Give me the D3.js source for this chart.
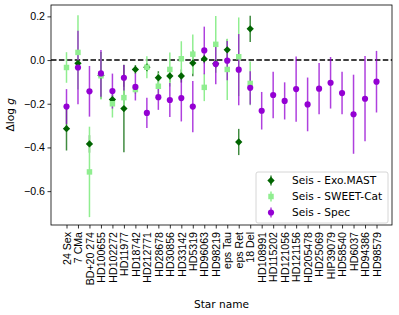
<!DOCTYPE html>
<html>
<head>
<meta charset="utf-8">
<style>
  body { margin: 0; background: white; }
  svg { font-family: "DejaVu Sans", sans-serif; }
</style>
</head>
<body>
<svg width="399" height="315"></svg>
<script src="https://d3js.org/d3.v7.min.js"></script>
<script>
// star names along the x axis
let stars = ["24 Sex", "7 CMa", "BD+20 274", "HD100655", "HD102272", "HD11977", "HD18742",
  "HD212771", "HD28678", "HD30856", "HD33142", "HD5319", "HD96063", "HD98219", "eps Tau",
  "eps Ret", "18 Del", "HD108991", "HD115202", "HD121056", "HD121156", "HD205478", "HD25069",
  "HIP39079", "HD58540", "HD6037", "HD94386", "HD98579"];

// Seis - Exo.MAST (first 17 stars)
let exoVal = [-0.314, -0.015, -0.384, -0.07, -0.181, -0.222, -0.043, -0.033, -0.081, -0.073,
  -0.073, -0.014, 0.005, -0.017, 0.047, -0.375, 0.143];
let exoErr = [0.10, 0.01, 0.04, 0.107, 0.02, 0.2, 0.02, 0.02, 0.03, 0.03, 0.03, 0.06, 0.02,
  0.02, 0.048, 0.06, 0.06];

// Seis - SWEET-Cat
let sweetVal = [-0.034, 0.035, -0.512, -0.072, -0.20, -0.172, -0.135, -0.033, -0.12, -0.043,
  0.006, 0.027, -0.125, 0.072, -0.043, 0.015, -0.107];
let sweetErr = [0.07, 0.17, 0.207, 0.108, 0.063, 0.05, 0.02, 0.05, 0.06, 0.078, 0.08, 0.09,
  0.063, 0.13, 0.14, 0.18, 0.1];

// Seis - Spec (all stars)
let specVal = [-0.213, -0.034, -0.143, -0.061, -0.142, -0.081, -0.123, -0.242, -0.17, -0.183,
  -0.174, -0.213, 0.044, -0.018, -0.003, -0.044, -0.127, -0.232, -0.16, -0.187, -0.133, -0.203,
  -0.131, -0.104, -0.151, -0.248, -0.177, -0.099];
let specErr = [0.08, 0.168, 0.116, 0.107, 0.08, 0.058, 0.062, 0.069, 0.058, 0.078, 0.107, 0.117,
  0.109, 0.093, 0.09, 0.163, 0.076, 0.086, 0.106, 0.085, 0.149, 0.123, 0.117, 0.118, 0.097,
  0.181, 0.195, 0.141];

let yTicks = [0.2, 0.0, -0.2, -0.4, -0.6];

let series = [
  { name: "Seis - Exo.MAST", vals: exoVal, errs: exoErr, color: "#006400", barOpacity: 0.75, shape: d3.symbolDiamond2 },
  { name: "Seis - SWEET-Cat", vals: sweetVal, errs: sweetErr, color: "#90ee90", barOpacity: 1, shape: d3.symbolSquare },
  { name: "Seis - Spec", vals: specVal, errs: specErr, color: "#9400d3", barOpacity: 0.75, shape: d3.symbolCircle }
];

let fontSize = "10.6px";
let margin = { left: 51, right: 7, top: 5, bottom: 90 };
let width = 399, height = 315;

let svg = d3.select("svg");

let x = d3.scaleLinear()
  .domain([-1.35, stars.length - 1 + 1.35])
  .range([margin.left, width - margin.right]);

let y = d3.scaleLinear()
  .domain([-0.755, 0.252])
  .range([height - margin.bottom, margin.top]);

// zero line
svg.append("line")
  .attr("x1", x.range()[0]).attr("x2", x.range()[1])
  .attr("y1", y(0)).attr("y2", y(0))
  .style("stroke", "black")
  .style("stroke-width", 1.5)
  .style("stroke-dasharray", "5.5,2.4");

// error bars first
series.forEach(s => {
  svg.append("g")
    .selectAll("line")
    .data(s.vals.map((v, i) => ({ i: i, v: v, e: s.errs[i] })))
    .join("line")
    .attr("x1", d => x(d.i)).attr("x2", d => x(d.i))
    .attr("y1", d => y(d.v - d.e)).attr("y2", d => y(d.v + d.e))
    .style("stroke", s.color)
    .style("stroke-opacity", s.barOpacity)
    .style("stroke-width", 1.5);
});

// markers on top
series.forEach(s => {
  svg.append("g")
    .selectAll("path")
    .data(s.vals.map((v, i) => ({ i: i, v: v })))
    .join("path")
    .attr("d", d3.symbol().type(s.shape).size(s.shape === d3.symbolDiamond2 ? 34 : 30))
    .attr("transform", d => "translate(" + x(d.i) + "," + y(d.v) + ")")
    .style("fill", s.color);
});

// axes
let xAxis = svg.append("g")
  .attr("transform", "translate(0," + y.range()[0] + ")")
  .call(d3.axisBottom(x)
    .tickValues(d3.range(stars.length))
    .tickFormat(i => stars[i])
    .tickSize(3.5)
    .tickSizeOuter(0));
xAxis.select(".domain").remove();
xAxis.selectAll("text")
  .attr("transform", "rotate(-90)")
  .attr("x", -7)
  .attr("y", 0)
  .attr("dy", "0.35em")
  .style("text-anchor", "end")
  .style("font-size", fontSize)
  .style("fill", "black");

let yAxis = svg.append("g")
  .attr("transform", "translate(" + x.range()[0] + ",0)")
  .call(d3.axisLeft(y)
    .tickValues(yTicks)
    .tickFormat(d => d3.format(".1f")(d).replace("-", "\u2212"))
    .tickSize(3.5)
    .tickSizeOuter(0));
yAxis.select(".domain").remove();
yAxis.selectAll("text")
  .attr("x", -6)
  .style("font-size", fontSize)
  .style("fill", "black");
svg.selectAll(".tick line").style("stroke", "black").style("stroke-width", 0.8);

// frame
svg.append("rect")
  .attr("x", x.range()[0]).attr("y", y.range()[1])
  .attr("width", x.range()[1] - x.range()[0])
  .attr("height", y.range()[0] - y.range()[1])
  .style("fill", "none")
  .style("stroke", "black")
  .style("stroke-width", 0.8);

// axis labels
svg.append("text")
  .attr("x", (x.range()[0] + x.range()[1]) / 2)
  .attr("y", 308)
  .style("text-anchor", "middle")
  .style("font-size", fontSize)
  .text("Star name");

let ylab = svg.append("text")
  .attr("transform", "translate(14," + y(-0.25) + ") rotate(-90)")
  .style("text-anchor", "middle")
  .style("font-size", fontSize);
ylab.append("tspan").text("\u0394log ");
ylab.append("tspan").style("font-style", "italic").text("g");

// legend
let legend = svg.append("g").attr("transform", "translate(256,172)");
legend.append("rect")
  .attr("width", 132).attr("height", 51).attr("rx", 2)
  .style("fill", "white").style("fill-opacity", 0.8)
  .style("stroke", "#cccccc").style("stroke-width", 0.8);

let rows = legend.selectAll(".row")
  .data(series)
  .join("g")
  .attr("class", "row")
  .attr("transform", (d, i) => "translate(0," + (8.5 + i * 16) + ")");
rows.append("line")
  .attr("x1", 15).attr("x2", 15).attr("y1", -5).attr("y2", 5)
  .style("stroke", d => d.color)
  .style("stroke-opacity", d => d.barOpacity)
  .style("stroke-width", 1.5);
rows.append("path")
  .attr("d", d => d3.symbol().type(d.shape).size(d.shape === d3.symbolDiamond2 ? 34 : 30)())
  .attr("transform", "translate(15,0)")
  .style("fill", d => d.color);
rows.append("text")
  .attr("x", 36).attr("y", 0).attr("dy", "0.35em")
  .style("font-size", fontSize)
  .text(d => d.name);
</script>
</body>
</html>
